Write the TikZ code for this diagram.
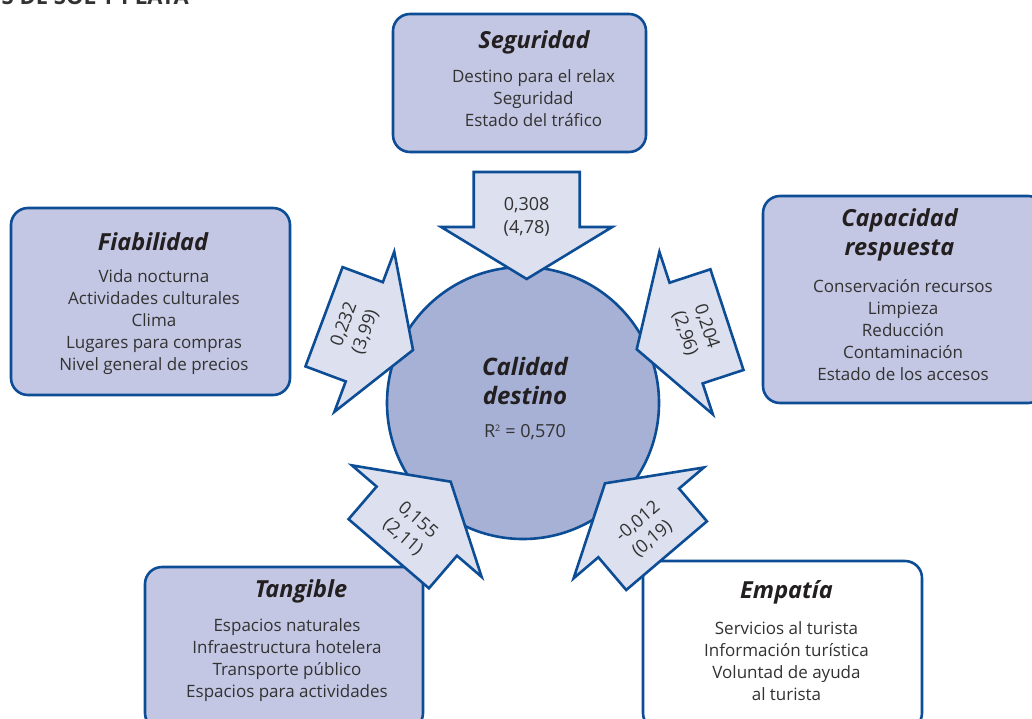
\documentclass[tikz,border=0pt]{standalone}
\usepackage{fontspec}
\setmainfont{Open Sans}
\definecolor{bline}{RGB}{12,77,150}
\definecolor{boxfill}{RGB}{196,199,227}
\definecolor{circfill}{RGB}{166,177,213}
\definecolor{arrfill}{RGB}{221,224,238}
\definecolor{tdark}{RGB}{35,31,32}
\definecolor{tbody}{RGB}{50,50,50}
\newcommand{\bigarr}[7]{%
  \draw[arr, shift={(#2,#3)}, rotate=#4] (0,0) -- (-52,85.5) -- (-52,53) -- ({-52-#5},53)
     -- ({-52-#5},-53) -- (-52,-53) -- (-52,-85.5) -- cycle;
  \path[shift={(#2,#3)}, rotate=#4] (-62,0) node[alab, rotate=#6] (#1) {#7};}
\begin{document}
\begin{tikzpicture}[x=1pt,y=-1pt,
  box/.style={draw=bline, line width=2.6pt, rounded corners=17pt, fill=boxfill, inner sep=0},
  ttl/.style={font=\fontsize{23.5}{29}\selectfont\bfseries\itshape, text=tdark, align=center, inner sep=0},
  body/.style={font=\fontsize{17}{22}\selectfont, text=tbody, align=center, inner sep=0},
  arr/.style={draw=bline, line width=2.6pt, fill=arrfill},
  alab/.style={font=\fontsize{18}{22.5}\selectfont, text=tbody, align=center, inner sep=0}]
\useasboundingbox (0,0) rectangle (1032,718);
% partial heading
\node[anchor=base east, font=\fontsize{22}{26}\selectfont\bfseries, text=tbody, inner sep=0] (head) at (189,4) {S DE SOL Y PLAYA};
% boxes
\node[box, minimum width=253pt, minimum height=138pt] (segbox) at (519.5,83) {};
\node[box, minimum width=279pt, minimum height=187pt] (fiabox) at (150.5,301.5) {};
\node[box, minimum width=282pt, minimum height=207pt] (capbox) at (904,299.5) {};
\node[box, minimum width=278pt, minimum height=163pt] (tanbox) at (284,648.5) {};
\node[box, fill=white, minimum width=279pt, minimum height=169pt] (empbox) at (782.5,645.5) {};
% texts
\node[ttl] (segt) at (534,42) {Seguridad};
\node[body] (segb) at (533.5,98.5) {Destino para el relax\\Seguridad\\Estado del tráfico};
\node[ttl] (fiat) at (153,242) {Fiabilidad};
\node[body] (fiab) at (154,322.5) {Vida nocturna\\Actividades culturales\\Clima\\Lugares para compras\\Nivel general de precios};
\node[ttl] (capt) at (899.5,234.5) {Capacidad\\respuesta};
\node[body] (capb) at (903,330.5) {Conservación recursos\\Limpieza\\Reducción\\Contaminación\\Estado de los accesos};
\node[ttl] (tant) at (301,591) {Tangible};
\node[body] (tanb) at (287,660.5) {Espacios naturales\\Infraestructura hotelera\\Transporte público\\Espacios para actividades};
\node[ttl] (empt) at (786.5,592) {Empatía};
\node[body] (empb) at (786.5,661.5) {Servicios al turista\\Información turística\\Voluntad de ayuda\\al turista};
% centre
\node[circle, draw=bline, line width=2.6pt, fill=circfill, minimum size=272pt, inner sep=0] (cal) at (523,403) {};
\node[ttl, font=\fontsize{24}{29}\selectfont\bfseries\itshape] (calt) at (525,381) {Calidad\\destino};
\node[body, font=\fontsize{18}{22}\selectfont] (calr) at (525,432) {R\textsuperscript{\fontsize{9}{9}\selectfont 2} = 0,570};
% arrows
\bigarr{a1}{526.7}{279}{-90}{55}{0}{0,308\\(4,78)}
\bigarr{a2}{413}{350}{-20.5}{43}{70}{0,232\\(3,99)}
\bigarr{a3}{636.7}{349.3}{198.2}{43}{-72}{0,204\\(2,96)}
\bigarr{a4}{450.7}{481.7}{49.3}{43}{-41}{0,155\\(2,11)}
\bigarr{a5}{605}{483.3}{130.4}{43}{40}{-0,012\\(0,19)}
\end{tikzpicture}
\end{document}
